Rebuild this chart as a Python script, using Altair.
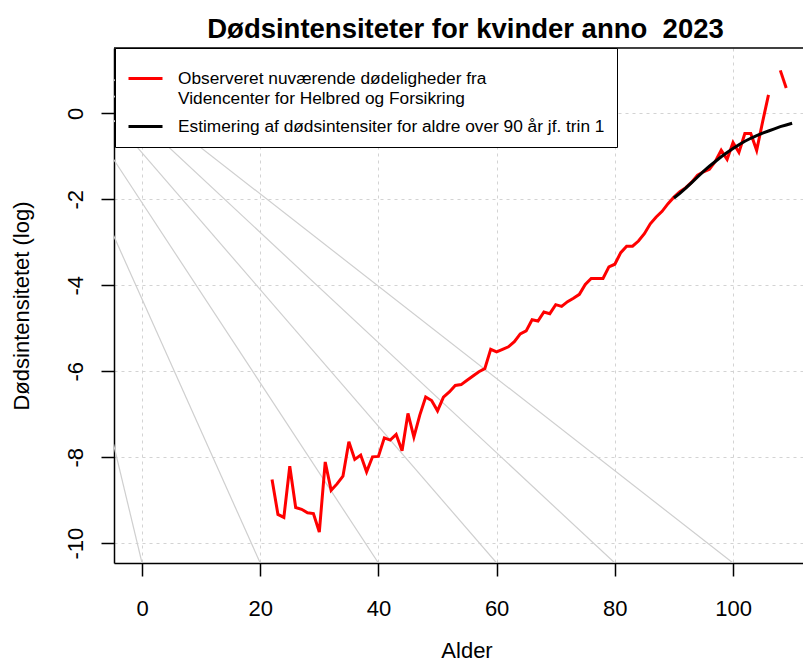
import altair as alt
import pandas as pd

# ---------------- data ----------------
obs_ages = list(range(22, 110))
obs_values = [
    -8.52, -9.33, -9.40, -8.21, -9.17, -9.21, -9.29, -9.31, -9.74, -8.11,   # 22-31
    -8.77, -8.62, -8.44, -7.64, -8.05, -7.95, -8.34, -7.99, -7.98, -7.55,   # 32-41
    -7.60, -7.47, -7.85, -6.98, -7.53, -7.02, -6.60, -6.68, -6.92, -6.60,   # 42-51
    -6.48, -6.33, -6.31, -6.21, -6.11, -6.01, -5.94, -5.49, -5.55, -5.49,   # 52-61
    -5.43, -5.31, -5.13, -5.06, -4.80, -4.83, -4.62, -4.66, -4.45, -4.49,   # 62-71
    -4.38, -4.30, -4.21, -3.98, -3.84, -3.84, -3.84, -3.57, -3.51, -3.24,   # 72-81
    -3.09, -3.09, -2.97, -2.80, -2.57, -2.41, -2.28, -2.10, -1.95, -1.82,   # 82-91
    -1.73, -1.60, -1.44, -1.36, -1.30, -1.12, -0.86, -1.07, -0.68, -0.91,   # 92-101
    -0.47, -0.47, -0.86, -0.20, 0.43, None, 1.00, 0.59,                    # 102-109
]

est_ages = list(range(90, 111))
est_values = [
    -1.97, -1.86, -1.74, -1.61, -1.48, -1.35, -1.23, -1.12, -1.01, -0.91,
    -0.82, -0.73, -0.65, -0.58, -0.52, -0.46, -0.41, -0.36, -0.31, -0.27, -0.23,
]

# grey guide lines: each runs from (age, bottom) up to a common point
fan_bottom_ages = [0, 20, 40, 60, 80, 100]
fan_bottom_value = -10.46
fan_apex_age = -23.0
fan_apex_value = 2.74

x_ticks = [0, 20, 40, 60, 80, 100]
y_ticks = [0, -2, -4, -6, -8, -10]
x_domain = [-4.74, 111.84]
y_domain = [-10.46, 1.52]

obs_label = "Observeret nuværende dødeligheder fra|Videncenter for Helbred og Forsikring"
est_label = "Estimering af dødsintensiter for aldre over 90 år jf. trin 1"
title_text = "Dødsintensiteter for kvinder anno\u00a0 2023"

FONT = "Liberation Sans"
W, H = 689, 515

# ---------------- tables ----------------
seg = 1
obs_rows = []
for a, v in zip(obs_ages, obs_values):
    if v is None:
        seg += 1
        continue
    obs_rows.append({"alder": a, "mu": v, "serie": obs_label, "seg": seg})
obs_df = pd.DataFrame(obs_rows)

est_df = pd.DataFrame({"alder": est_ages, "mu": est_values, "serie": est_label, "seg": 0})

fan_rows = []
for i, a in enumerate(fan_bottom_ages):
    fan_rows.append({"alder": a, "mu": fan_bottom_value, "line": i})
    fan_rows.append({"alder": fan_apex_age, "mu": fan_apex_value, "line": i})
fan_df = pd.DataFrame(fan_rows)

x_scale = alt.Scale(domain=x_domain, nice=False, zero=False)
y_scale = alt.Scale(domain=y_domain, nice=False, zero=False)
color_scale = alt.Scale(domain=[obs_label, est_label], range=["#FF0000", "#000000"])

x_axis = alt.Axis(
    values=x_ticks, title="Alder", grid=True, gridColor="#D3D3D3", gridDash=[3, 4],
    tickSize=13, tickColor="black", domainColor="black", domainWidth=1.5, tickWidth=1.5,
    labelFont=FONT, labelFontSize=22, labelColor="black", labelBaseline="alphabetic",
    labelPadding=39, labelFlush=False, labelOverlap=False,
    labelExpr="toString(datum.value)",
    titleFont=FONT, titleFontSize=22, titleFontWeight="normal", titleColor="black",
    titleBaseline="alphabetic", titleX=352.5, titleY=94, titleAlign="center",
)
y_axis = alt.Axis(
    values=y_ticks, title="Dødsintensitetet (log)", grid=True, gridColor="#D3D3D3", gridDash=[3, 4],
    tickSize=13, tickColor="black", domainColor="black", domainWidth=1.5, tickWidth=1.5,
    labelFont=FONT, labelFontSize=22, labelColor="black", labelAngle=-90,
    labelAlign="center", labelBaseline="alphabetic", labelPadding=19,
    labelFlush=False, labelOverlap=False,
    labelExpr="toString(datum.value)",
    titleFont=FONT, titleFontSize=22, titleFontWeight="normal", titleColor="black",
    titleAngle=-90, titleBaseline="alphabetic", titleX=-85.5, titleY=257.5, titleAlign="center",
)

fan = alt.Chart(fan_df).mark_line(color="#CFCFCF", strokeWidth=1.2, clip=True).encode(
    x=alt.X("alder:Q", scale=x_scale, axis=x_axis),
    y=alt.Y("mu:Q", scale=y_scale, axis=y_axis),
    detail="line:N",
)

legend = alt.Legend(
    title=None, orient="none", legendX=1, legendY=0,
    symbolType="stroke", symbolSize=1156, symbolStrokeWidth=3,
    labelFont=FONT, labelFontSize=17.3, labelColor="black", labelOffset=14, labelLimit=1000,
    labelExpr="split(datum.label, '|')",
    padding=12, strokeColor="black", fillColor="white", rowPadding=0,
)

obs = alt.Chart(obs_df).mark_line(strokeWidth=3, clip=True).encode(
    x=alt.X("alder:Q", scale=x_scale),
    y=alt.Y("mu:Q", scale=y_scale),
    color=alt.Color("serie:N", scale=color_scale, legend=legend),
    detail="seg:N",
)

est = alt.Chart(est_df).mark_line(strokeWidth=3, clip=True).encode(
    x=alt.X("alder:Q", scale=x_scale),
    y=alt.Y("mu:Q", scale=y_scale),
    color=alt.Color("serie:N", scale=color_scale, legend=legend),
)

top_border = alt.Chart(pd.DataFrame({"k": [0]})).mark_rule(color="black", strokeWidth=1.5).encode(
    x=alt.value(0), x2=alt.value(W), y=alt.value(0)
)

chart = alt.layer(fan, obs, est, top_border).properties(
    width=W, height=H,
    title=alt.TitleParams(
        title_text, font=FONT, fontSize=27.5, fontWeight="bold", color="black",
        anchor="middle", frame="group", baseline="alphabetic", offset=-18, dx=7,
    ),
    autosize=alt.AutoSizeParams(type="none"),
    padding={"left": 106, "top": 40, "right": 0, "bottom": 100},
).configure(style={"guide-label": {"lineHeight": 20.5}}).configure_view(stroke=None)

chart.save("out.html", embed_options={"renderer": "svg", "actions": False})
